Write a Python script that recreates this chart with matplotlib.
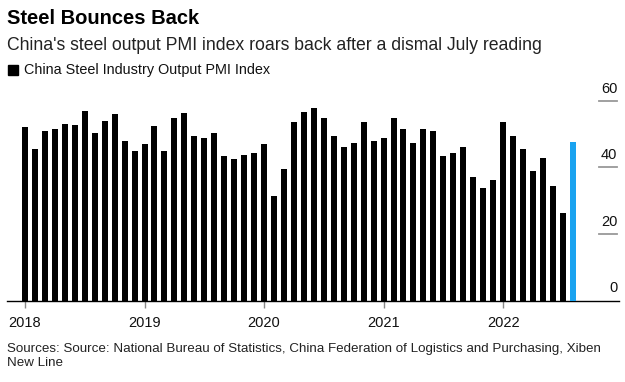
import matplotlib.pyplot as plt
import numpy as np

# --- Data: monthly China steel output PMI, Jan 2018 - Aug 2022 ---
months = list(range(56))  # 0 = Jan 2018
pmi_values = [
    52.1, 45.5, 50.9, 51.5, 53.1, 52.7, 57.0, 50.4, 54.0, 56.1, 48.0, 45.0,  # 2018
    47.1, 52.5, 45.0, 54.9, 56.4, 49.4, 48.9, 50.4, 43.4, 42.5, 43.7, 44.4,  # 2019
    47.1, 31.4, 39.5, 53.6, 56.7, 57.8, 54.8, 49.4, 46.2, 47.4, 53.6, 48.0,  # 2020
    48.9, 54.9, 51.6, 47.4, 51.6, 51.0, 43.5, 44.4, 46.2, 37.0, 33.8, 36.2,  # 2021
    53.6, 49.4, 45.6, 38.9, 42.9, 34.3, 26.3, 47.7,                          # 2022
]
year_labels = ['2018', '2019', '2020', '2021', '2022']
year_ticks = [0, 12, 24, 36, 48]
y_ticks = [0, 20, 40, 60]

title = "Steel Bounces Back"
subtitle = "China's steel output PMI index roars back after a dismal July reading"
legend_label = "China Steel Industry Output PMI Index"
source = ("Sources: Source: National Bureau of Statistics, China Federation of Logistics and Purchasing, Xiben\n"
          "New Line")

plt.rcParams['font.family'] = ['Liberation Sans', 'DejaVu Sans']

W, H = 625, 382
fig = plt.figure(figsize=(W / 100, H / 100), dpi=100)

# axes placed in pixel terms
left_px, right_px = 7, 619
base_px = 300.5
ymax = 62
px_per_unit = 3.325
top_px = base_px - ymax * px_per_unit
ax = fig.add_axes([left_px / W, 1 - base_px / H, (right_px - left_px) / W, (base_px - top_px) / H])

colors = ['#000000'] * (len(months) - 1) + ['#1aa3f0']
ax.bar(months, pmi_values, width=0.6, color=colors, zorder=3)

px_per_month = 9.96
ax.set_xlim((left_px - 25) / px_per_month, (right_px - 25) / px_per_month)
ax.set_ylim(0, ymax)

for s in ['top', 'right', 'left']:
    ax.spines[s].set_visible(False)
ax.spines['bottom'].set_color('black')
ax.spines['bottom'].set_linewidth(1.0)

ax.set_xticks(year_ticks)
ax.set_xticklabels(year_labels, fontsize=10.5, color='#111111')
ax.tick_params(axis='x', length=5, width=1, color='#888888', pad=6)
ax.set_yticks([])

# short right-side gridlines with labels above
for v in y_ticks:
    if v > 0:
        ax.axhline(v, xmin=0.967, xmax=0.997, color='#999999', lw=1.3, zorder=2)
    ax.annotate(str(v), xy=(0.997, v), xycoords=ax.get_yaxis_transform(),
                xytext=(0, 5), textcoords='offset pixels',
                ha='right', va='bottom', fontsize=10.5, color='#111111')

# header texts
fig.text(7 / W, 1 - 18 / H, title, fontsize=14.5, fontweight='bold', va='center', ha='left')
fig.text(7 / W, 1 - 45 / H, subtitle, fontsize=12.7, color='#222222', va='center', ha='left')
fig.patches.append(plt.Rectangle((8 / W, 1 - 75 / H), 10 / W, 10 / H, color='black',
                                 transform=fig.transFigure, figure=fig))
fig.text(24 / W, 1 - 70 / H, legend_label, fontsize=10.4, color='#111111', va='center', ha='left')

fig.text(7 / W, 1 - 356 / H, source, fontsize=9.6, color='#222222', va='center', ha='left',
         linespacing=1.2)

fig.savefig('out.png', dpi=100)
